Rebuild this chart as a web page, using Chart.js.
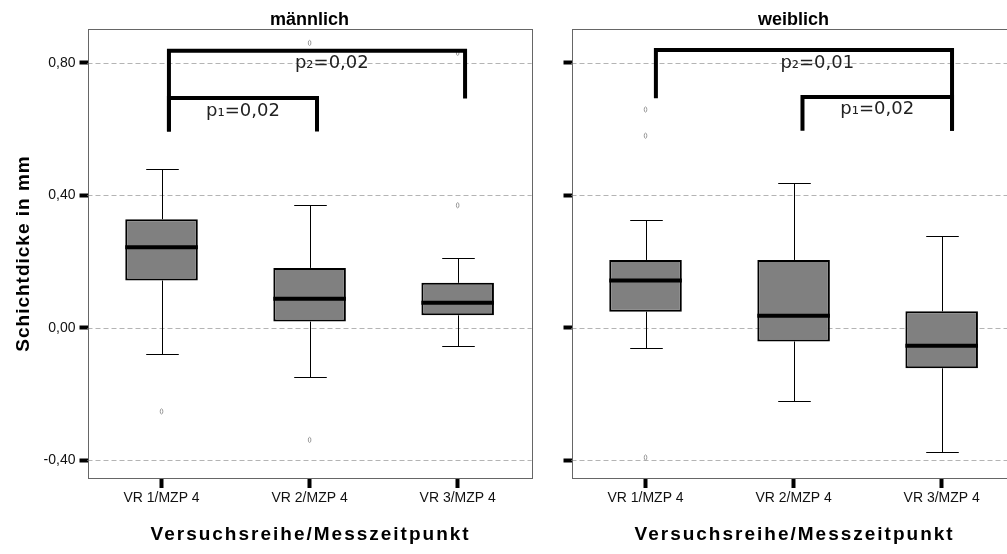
<!DOCTYPE html>
<html lang="de">
<head>
<meta charset="utf-8">
<title>Schichtdicke</title>
<script src="https://cdn.jsdelivr.net/npm/chart.js@4.4.1/dist/chart.umd.min.js"></script>
<style>
html, body { margin: 0; padding: 0; background: #fff; overflow: hidden; }
#links { position: absolute; left: 0; top: 0; }
#rechts { position: absolute; left: 545px; top: 0; }
</style>
</head>
<body>
<canvas id="links" width="545" height="554"></canvas>
<canvas id="rechts" width="485" height="554"></canvas>
<script>
// Kategorien und Achsen
var kategorien = ['VR 1/MZP 4', 'VR 2/MZP 4', 'VR 3/MZP 4'];
var yTickWerte = [-0.4, 0, 0.4, 0.8];
var yTickLabels = ['-0,40', '0,00', '0,40', '0,80'];

// männlich
var mMin = [-0.079, -0.147, -0.054];
var mQ1 = [0.143, 0.019, 0.038];
var mMedian = [0.243, 0.088, 0.076];
var mQ3 = [0.328, 0.181, 0.136];
var mMax = [0.480, 0.370, 0.212];
var mAusreisser = [[-0.252], [0.860, -0.338], [0.370, 0.830]];
var mKlammern = [
	{ x1: 0.05, x2: 1.05, oben: 0.694, fussLinks: 0.593, fussRechts: 0.593 },
	{ x1: 0.05, x2: 2.05, oben: 0.836, fussLinks: 0.593, fussRechts: 0.692 }
];
var mPWerte = [
	{ text: 'p\u2081=0,02', x: 0.55, y: 0.654 },
	{ text: 'p\u2082=0,02', x: 1.15, y: 0.798 }
];

// weiblich
var wMin = [-0.060, -0.220, -0.374];
var wQ1 = [0.049, -0.041, -0.122];
var wMedian = [0.143, 0.037, -0.054];
var wQ3 = [0.205, 0.205, 0.050];
var wMax = [0.327, 0.438, 0.278];
var wAusreisser = [[0.659, 0.580, -0.391], [], []];
var wKlammern = [
	{ x1: 0.07, x2: 2.07, oben: 0.839, fussLinks: 0.693, fussRechts: 0.595 },
	{ x1: 1.06, x2: 2.07, oben: 0.697, fussLinks: 0.595, fussRechts: 0.595 }
];
var wPWerte = [
	{ text: 'p\u2082=0,01', x: 1.16, y: 0.798 },
	{ text: 'p\u2081=0,02', x: 1.565, y: 0.66 }
];

var schrift = '"Liberation Sans", Arial, sans-serif';

function xPixel(skala, wert) {
	var a = skala.getPixelForValue(0);
	var b = skala.getPixelForValue(1);
	return a + wert * (b - a);
}

function erstellePanel(canvasId, titel, d) {
	var boxplot = {
		id: 'boxplot',
		beforeDatasetsDraw: function(chart) {
			var ctx = chart.ctx, area = chart.chartArea;
			var x = chart.scales.x, y = chart.scales.y;
			var band = x.getPixelForValue(1) - x.getPixelForValue(0);
			ctx.save();
			// gestrichelte Hilfslinien
			ctx.strokeStyle = '#b4b4b4';
			ctx.lineWidth = 1;
			ctx.setLineDash([5, 3]);
			yTickWerte.forEach(function(v) {
				var py = Math.round(y.getPixelForValue(v)) + 0.5;
				ctx.beginPath();
				ctx.moveTo(area.left, py);
				ctx.lineTo(area.right, py);
				ctx.stroke();
			});
			ctx.setLineDash([]);
			// Whisker
			ctx.strokeStyle = '#000';
			ctx.lineWidth = 1;
			kategorien.forEach(function(k, i) {
				var px = Math.round(x.getPixelForValue(i)) + 0.5;
				var halb = band * 0.11;
				[[d.max[i], d.q3[i]], [d.min[i], d.q1[i]]].forEach(function(paar) {
					var ende = Math.round(y.getPixelForValue(paar[0])) + 0.5;
					ctx.beginPath();
					ctx.moveTo(px, ende);
					ctx.lineTo(px, y.getPixelForValue(paar[1]));
					ctx.moveTo(px - halb, ende);
					ctx.lineTo(px + halb, ende);
					ctx.stroke();
				});
			});
			ctx.restore();
		},
		afterDatasetsDraw: function(chart) {
			var ctx = chart.ctx, area = chart.chartArea;
			var x = chart.scales.x, y = chart.scales.y;
			var balken = chart.getDatasetMeta(0).data;
			ctx.save();
			// Mediane
			ctx.strokeStyle = '#000';
			ctx.lineWidth = 4;
			kategorien.forEach(function(k, i) {
				var b = balken[i];
				var py = y.getPixelForValue(d.median[i]);
				ctx.beginPath();
				ctx.moveTo(b.x - b.width / 2, py);
				ctx.lineTo(b.x + b.width / 2, py);
				ctx.stroke();
			});
			// Ausreißer
			ctx.strokeStyle = '#9a9a9a';
			ctx.lineWidth = 1;
			d.ausreisser.forEach(function(werte, i) {
				var px = x.getPixelForValue(i);
				werte.forEach(function(v) {
					ctx.beginPath();
					ctx.ellipse(px, y.getPixelForValue(v), 1.3, 2.6, 0, 0, Math.PI * 2);
					ctx.stroke();
				});
			});
			// Signifikanzklammern
			ctx.strokeStyle = '#000';
			ctx.lineWidth = 4;
			ctx.lineJoin = 'miter';
			d.klammern.forEach(function(k) {
				var x1 = xPixel(x, k.x1), x2 = xPixel(x, k.x2);
				ctx.beginPath();
				ctx.moveTo(x1, y.getPixelForValue(k.fussLinks));
				ctx.lineTo(x1, y.getPixelForValue(k.oben));
				ctx.lineTo(x2, y.getPixelForValue(k.oben));
				ctx.lineTo(x2, y.getPixelForValue(k.fussRechts));
				ctx.stroke();
			});
			ctx.fillStyle = '#222';
			ctx.font = '18px "DejaVu Sans", sans-serif';
			ctx.textAlign = 'center';
			ctx.textBaseline = 'middle';
			d.pWerte.forEach(function(p) {
				ctx.fillText(p.text, xPixel(x, p.x), y.getPixelForValue(p.y));
			});
			// Rahmen
			ctx.strokeStyle = '#666';
			ctx.lineWidth = 1;
			ctx.strokeRect(Math.round(area.left) + 0.5, Math.round(area.top) + 0.5,
				Math.round(area.right - area.left), Math.round(area.bottom - area.top));
			ctx.restore();
		},
		afterDraw: function(chart) {
			var ctx = chart.ctx, area = chart.chartArea;
			ctx.save();
			ctx.fillStyle = '#000';
			ctx.font = 'bold 19px ' + schrift;
			ctx.letterSpacing = '2px';
			ctx.textAlign = 'center';
			ctx.textBaseline = 'middle';
			ctx.fillText('Versuchsreihe/Messzeitpunkt', (area.left + area.right) / 2 + 1, 535);
			if (d.yTitel) {
				ctx.letterSpacing = '1px';
				ctx.translate(24, (area.top + area.bottom) / 2);
				ctx.rotate(-Math.PI / 2);
				ctx.fillText(d.yTitel, 0, 0);
			}
			ctx.restore();
		}
	};

	return new Chart(document.getElementById(canvasId), {
		type: 'bar',
		data: {
			labels: kategorien,
			datasets: [{
				data: d.q1.map(function(v, i) { return [v, d.q3[i]]; }),
				backgroundColor: '#808080',
				borderColor: '#000',
				borderWidth: 2,
				borderSkipped: false,
				barPercentage: 0.49,
				categoryPercentage: 1
			}]
		},
		options: {
			responsive: false,
			animation: false,
			events: [],
			layout: { padding: { left: 0, right: d.randRechts, top: 0, bottom: 0 } },
			plugins: {
				legend: { display: false },
				tooltip: { enabled: false },
				title: {
					display: true,
					text: titel,
					fullSize: false,
					color: '#000',
					font: { family: schrift, size: 18, weight: 'bold', lineHeight: 1 },
					padding: { top: 10.6, bottom: 0.4 }
				}
			},
			scales: {
				x: {
					offset: true,
					grid: { offset: false, drawOnChartArea: false, tickLength: 10, tickWidth: 4, tickColor: '#000' },
					border: { display: false },
					ticks: { color: '#111', font: { family: schrift, size: 14 }, padding: 2, maxRotation: 0, autoSkip: false },
					afterFit: function(s) { s.height = 76; }
				},
				y: {
					min: -0.453,
					max: 0.902,
					afterBuildTicks: function(s) {
						s.ticks = yTickWerte.map(function(v) { return { value: v }; });
					},
					grid: { drawOnChartArea: false, tickLength: 8, tickWidth: 4, tickColor: '#000' },
					border: { display: false },
					ticks: {
						display: d.yLabels,
						color: '#111',
						font: { family: schrift, size: 14 },
						padding: 4,
						callback: function(v, i) { return yTickLabels[i]; }
					},
					afterFit: function(s) { s.width = d.achsenBreite; }
				}
			}
		},
		plugins: [boxplot]
	});
}

erstellePanel('links', 'männlich', {
	min: mMin, q1: mQ1, median: mMedian, q3: mQ3, max: mMax,
	ausreisser: mAusreisser, klammern: mKlammern, pWerte: mPWerte,
	yTitel: 'Schichtdicke in mm', yLabels: true, achsenBreite: 87.5, randRechts: 13.3
});

erstellePanel('rechts', 'weiblich', {
	min: wMin, q1: wQ1, median: wMedian, q3: wQ3, max: wMax,
	ausreisser: wAusreisser, klammern: wKlammern, pWerte: wPWerte,
	yTitel: null, yLabels: false, achsenBreite: 26.5, randRechts: 14.3
});
</script>
</body>
</html>
